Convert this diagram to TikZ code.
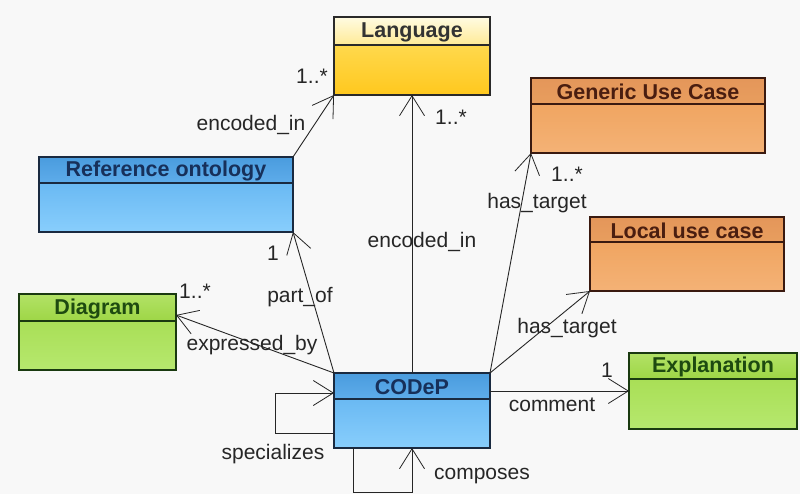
\documentclass[tikz,border=0pt]{standalone}
\usepackage{fontspec}
\setmainfont{Liberation Sans}
\usetikzlibrary{arrows.meta,calc}
\definecolor{bg}{HTML}{F8F8F8}
% yellow
\definecolor{yHa}{HTML}{FFFBE2}\definecolor{yHb}{HTML}{FFEA96}
\definecolor{yBa}{HTML}{FFE266}\definecolor{yBb}{HTML}{FFC81E}
\definecolor{yT}{HTML}{333333}\definecolor{yL}{HTML}{2A2A2A}
% blue
\definecolor{bHa}{HTML}{4A9CDE}\definecolor{bHb}{HTML}{5EACEA}
\definecolor{bBa}{HTML}{5AAEEE}\definecolor{bBb}{HTML}{88CEFC}
\definecolor{bT}{HTML}{17305A}\definecolor{bL}{HTML}{1A2A40}
% orange
\definecolor{oHa}{HTML}{E4965A}\definecolor{oHb}{HTML}{E89E5E}
\definecolor{oBa}{HTML}{EE9E56}\definecolor{oBb}{HTML}{F4B276}
\definecolor{oT}{HTML}{4A1E10}\definecolor{oL}{HTML}{3A1A10}
% green
\definecolor{gHa}{HTML}{B2E266}\definecolor{gHb}{HTML}{9ED646}
\definecolor{gBa}{HTML}{A2DA4A}\definecolor{gBb}{HTML}{B6E86E}
\definecolor{gT}{HTML}{1E4A10}\definecolor{gL}{HTML}{1A3A10}
\tikzset{
  classtitle/.style={font=\fontsize{21.5}{24}\selectfont\bfseries, inner sep=0pt},
  lbl/.style={font=\fontsize{21}{24}\selectfont, text=black!85, inner sep=0pt},
  assoc/.style={line width=0.9pt, draw=black!85, -{Straight Barb[length=20pt,width=25pt,line width=0.8pt]}},
}
% #1 name, #2 x1, #3 y1, #4 x2, #5 ysep, #6 y2, #7 colour prefix, #8 title
\newcommand{\umlclass}[8]{%
  \node[inner sep=0pt, outer sep=0pt, top color=#7Ba, bottom color=#7Bb,
        minimum width={(#4-#2)*1pt}, minimum height={(#6-#3)*1pt}]
        (#1) at ({(#2+#4)/2},{(#3+#6)/2}) {};
  \shade[top color=#7Ha, bottom color=#7Hb] (#2,#3) rectangle (#4,#5);
  \draw[#7L, line width=1.2pt] (#2,#5) -- (#4,#5);
  \draw[#7L, line width=1.2pt] (#2,#3) rectangle (#4,#6);
  \node[classtitle, text=#7T] at ({(#2+#4)/2},{(#3+#5)/2+1}) {#8};
}
\begin{document}
\begin{tikzpicture}[x=1pt,y=-1pt]
\fill[bg] (0,0) rectangle (800,494);
\useasboundingbox (0,0) rectangle (800,494);

\umlclass{lang}{334}{17}{490}{45}{95}{y}{Language}
\umlclass{ro}{39}{157}{293}{183}{232}{b}{Reference ontology}
\umlclass{guc}{531}{78}{765}{104}{153}{o}{Generic Use Case}
\umlclass{luc}{590}{217}{784}{242}{291}{o}{Local use case}
\umlclass{diag}{19}{294}{176}{321}{370}{g}{Diagram}
\umlclass{codep}{334}{373}{490}{399}{448}{b}{CODeP}
\umlclass{expl}{629}{353}{797}{379}{429}{g}{Explanation}

% associations
\draw[assoc] (ro.north east) -- (lang.south west);
\draw[assoc] (codep.north) -- (lang.south);
\draw[assoc] (codep.north west) -- (ro.south east);
\draw[assoc] (codep.north west) -- ([yshift=17pt]diag.east);
\draw[assoc] (codep.north east) -- (guc.south west);
\draw[assoc] (codep.north east) -- (luc.south west);
\draw[assoc] (expl.west -| codep.east) -- (expl.west);
\draw[assoc] ([yshift=-22.5pt]codep.west) -- ++(-59,0) -- ++(0,-40) -- ([yshift=17.5pt]codep.west);
\draw[assoc] ([xshift=-59pt]codep.south) -- ++(0,44) -- ++(59,0) -- (codep.south);

% labels
\node[lbl] (l1) at (312,76) {1..*};
\node[lbl] (l2) at (251,125) {encoded\_in};
\node[lbl] (l3) at (451,117) {1..*};
\node[lbl] (l4) at (422,242) {encoded\_in};
\node[lbl] (l5) at (273,253) {1};
\node[lbl] (l6) at (300,297) {part\_of};
\node[lbl] (l7) at (195,291) {1..*};
\node[lbl] (l8) at (252,345) {expressed\_by};
\node[lbl] (l9) at (273,454) {specializes};
\node[lbl] (l10) at (482,476) {composes};
\node[lbl] (l11) at (552,405) {comment};
\node[lbl] (l12) at (607,370) {1};
\node[lbl] (l13) at (567,174) {1..*};
\node[lbl] (l14) at (537,203) {has\_target};
\node[lbl] (l15) at (567,328) {has\_target};
\end{tikzpicture}
\end{document}
